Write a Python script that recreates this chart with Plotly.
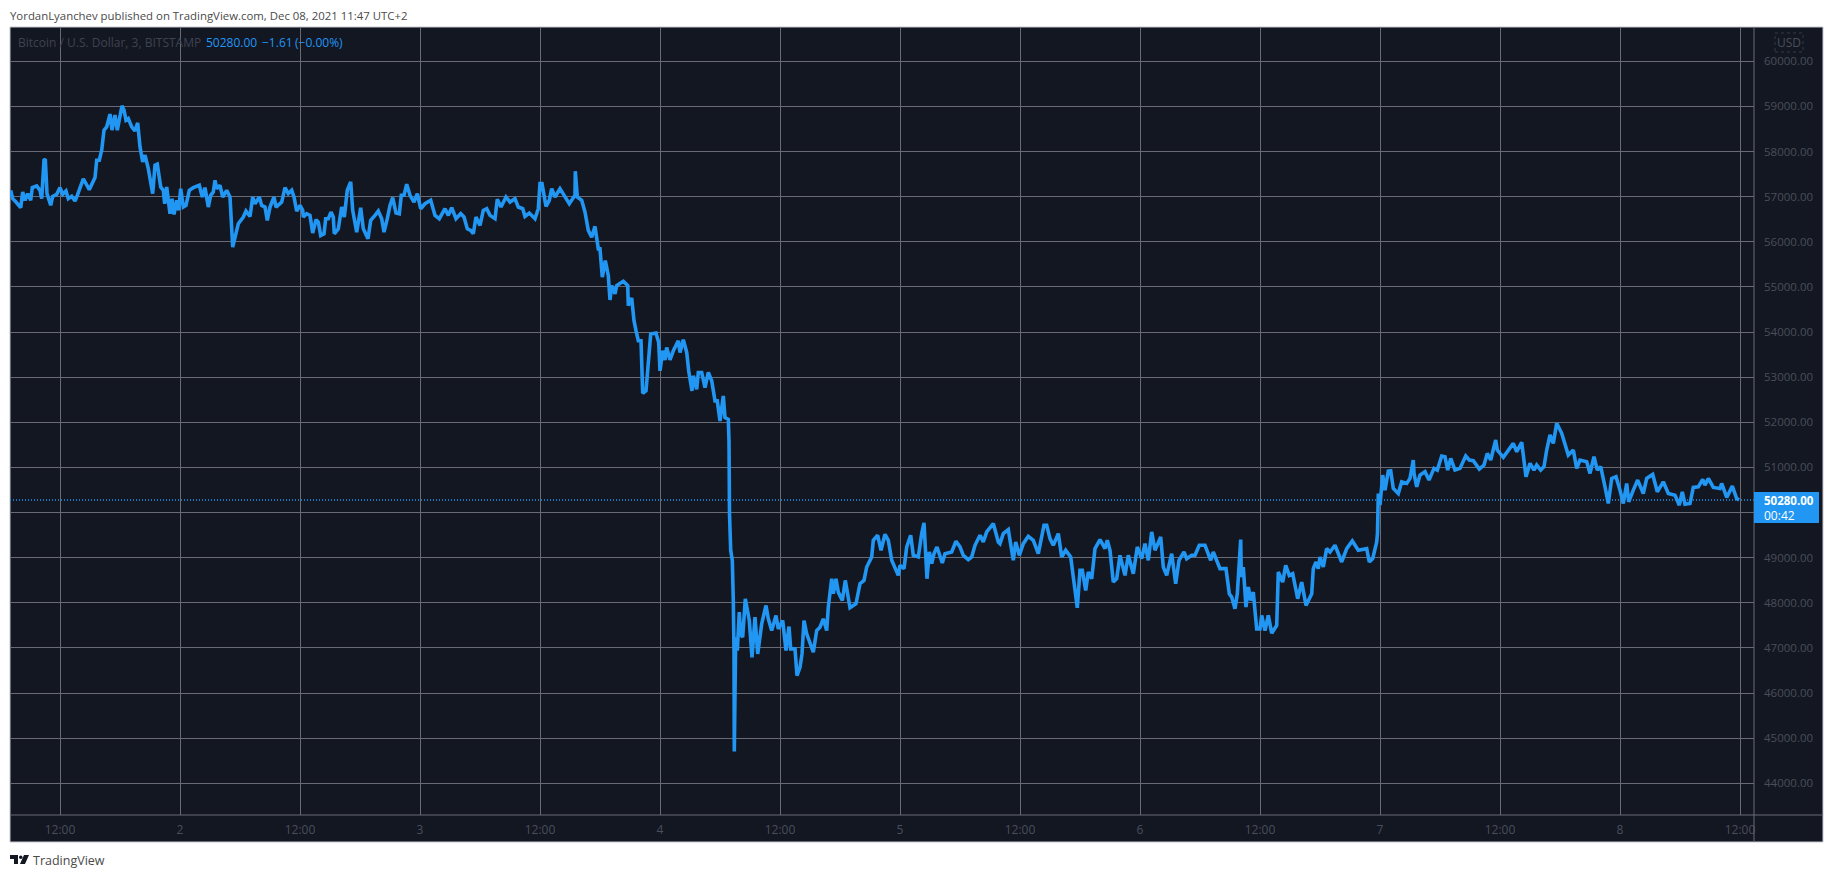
import pandas as pd
import plotly.graph_objects as go

# ---- data: hours since 2021-12-01 00:00 and BTC/USD price ----
hours_a = [7.07,7.27,7.6,8.07,8.27,8.5,8.77,9.07,9.23,9.67,10,10.17,10.4,10.53,10.7,11.07,11.27,11.67,12,12.27,12.6,12.83,13.17,13.5,13.73,14,14.33,14.6,14.93,15.5,15.67,15.93,16.17,16.4,16.67,17,17.2,17.5,17.73,18.2,18.4,18.6,18.83,19.17,19.5,19.77,20,20.27,20.5,20.83,21.27,21.5,21.73,22.07,22.33,22.47,22.67,23,23.2,23.4,23.67,23.87,24.07,24.33,24.6,24.93,25.33,25.93,26.23,26.5,26.83,27.07,27.33,27.5,27.67,28,28.27,28.67,29,29.27,29.53,29.83,30.33,30.6,31,31.27,31.5,31.93,32.17,32.5,32.73,33,33.4,33.6,34.17,34.5,34.83,35.17,35.4,35.67]
price_a = [57141,56956,56882,56756,57104,56919,57067,56919,57200,57237,57141,56956,57807,57830,57067,56808,57007,57052,57200,57052,57126,56956,57007,56904,57030,57215,57393,57289,57156,57422,57807,57807,58030,58474,58548,58830,58474,58807,58474,59015,58919,58696,58733,58548,58459,58637,58104,57770,57919,57622,57067,57696,57719,57215,57141,56844,57215,56622,56956,56607,56919,56696,57178,56770,56807,57141,57200,57252,56993,57200,56770,57030,57104,57363,57178,57252,56993,57141,56993,55882,56104,56400,56548,56681,56563,56993,56844,56993,56807,56770,56474,56770,56993,56770,56881,57200,57067,57141,56993,56681]

hours_b = [36,36.27,36.33,36.67,37,37.27,37.6,37.83,38.07,38.4,38.57,38.83,39.1,39.33,39.43,39.83,40.17,40.43,40.73,41.07,41.27,41.67,42.07,42.33,42.8,43.07,43.5,43.83,44.17,44.4,44.73,45,45.27,45.6,45.93,46.13,46.4,46.67,47,47.4,47.73,48.07,48.5,49.07,49.5,49.93,50.5,50.83,51.17,51.6,52.07,52.4,52.73,53.07,53.33,53.6,54,54.33,54.67,55,55.5,55.73,56.1,56.6,57,57.5,57.83,58.27,58.5,58.93,59.5,59.83,60,60.2,60.6,60.93,61.17,61.5,62,62.33,62.93,63.5,63.53,63.73,64.17,64.5,64.83,65.17,65.5,65.83]
price_b = [56807,56696,56548,56622,56585,56193,56489,56437,56141,56178,56511,56511,56659,56548,56178,56289,56770,56548,57141,57326,56696,56215,56756,56289,56067,56474,56585,56681,56511,56215,56511,56807,56978,56637,56622,57030,57030,57274,57030,56881,57067,56733,56844,56919,56585,56511,56733,56585,56756,56511,56622,56548,56289,56252,56178,56548,56363,56696,56733,56585,56511,56941,56770,56993,56881,56956,56770,56733,56563,56637,56511,56733,57289,57289,56785,56919,57178,56993,57178,57067,56844,57030,57563,56993,56919,56659,56252,56104,56341,55844]

hours_c = [66,66.23,66.53,66.83,67,67.17,67.5,67.67,68.33,68.77,68.83,69.17,69.4,69.6,69.83,70.1,70.27,70.6,70.87,71.07,71.6,71.87,72,72.27,72.5,72.67,73,73.33,73.83,74,74.33,74.67,74.87,75.2,75.33,75.67,75.83,76.17,76.5,76.83,77.17,77.5,77.73,78,78.33,78.5,78.83,78.9]
price_c = [55844,55215,55585,55252,54711,55030,54844,55030,55126,55030,54585,54756,54252,54030,53807,53807,52645,52696,53437,53956,53978,53770,53141,53585,53378,53659,53385,53585,53807,53548,53830,53548,53141,52696,53030,52733,53104,53104,52770,53104,52919,52474,52474,52030,52585,52104,52067,51585]

hours_d = [78.93,78.95,79.07,79.23,79.33,79.4,79.43,79.5,79.57,79.73,79.93,80.07,80.27,80.53,80.93,81.2,81.5,81.77,82.17,82.6,82.83,83.17,83.6,83.83,84.27,84.6,84.9,85.07,85.5,85.7,86,86.2,86.4,86.67,87.33,87.67,88,88.33,88.67,88.83,89.17,89.33,89.6,89.83,90.23,90.53,91,91.6,92,92.4,92.67,93.17,93.33,93.77,94.1,94.5,94.83,95.17,95.83,96,96.4,96.67,97.07,97.33,97.83,98.17,98.4,98.7,98.93,99.17,99.4,99.7,100.23,100.5,101.17,101.6,102,102.33,102.83,103.17,103.5,104,104.33,104.67,105.33,105.83,106]
price_d = [50644,49978,49163,48941,48052,46941,44704,46719,47237,46941,47793,47311,47237,48089,47607,46793,47681,46867,47533,47941,47644,47385,47719,47422,47607,46941,47474,46978,46978,46385,46570,46867,47607,47311,46904,47385,47459,47644,47385,47904,48533,48200,48533,48237,48052,48496,47889,47978,48422,48496,48793,49015,49385,49496,49163,49519,49385,48941,48607,48830,48756,49237,49496,49052,49015,49533,49770,48533,49126,48867,49089,49237,48882,49089,49126,49363,49237,49052,48956,49015,49274,49496,49348,49570,49756,49348,49311]

hours_e = [106.33,106.83,107.33,107.57,107.93,108.33,108.83,109.33,109.83,110.4,110.67,111,111.33,111.83,112.17,112.57,113.07,113.33,113.73,114,114.23,114.57,114.83,115.17,115.5,116,116.5,116.73,117,117.33,117.67,118,118.5,118.83,119.33,119.73,120.17,120.5,120.83,121.17,121.5,122.07,122.33,122.67,123.17,123.57,123.9,124.4,124.67,125.17,125.5,125.93,126.5,127.07,127.33,128,128.6,128.93,129.17,129.5,129.73,130.07,130.13,130.33,130.6,130.83,131.07,131.33,131.67,132,132.17,132.5,132.83,133.17,133.67,133.83,134.27,134.57,134.93,135.27,135.77,136.17,136.6,137.17,137.33,137.6,137.83,138,138.33,138.67,139,139.5,140.17,140.67,141.23,141.83,142.67,142.93,143.27,143.67,143.75,143.83]
price_e = [49533,49622,48941,49348,49052,49311,49474,49385,49089,49719,49719,49422,49274,49533,49015,49163,49015,48533,47889,48719,48719,48274,48681,48533,49200,49400,49200,49385,49163,48459,48533,49052,48607,49052,48644,49237,48978,49311,48941,49570,49163,49459,48793,48607,49089,48422,48941,49126,48978,49052,49052,49274,49274,48941,49126,48756,48756,48200,48126,47867,48200,49400,48570,48793,47904,48348,48052,48237,47422,47422,47719,47385,47719,47326,47496,48681,48459,48830,48607,48644,48089,48459,47941,48200,48756,48904,48756,49015,48793,49200,49126,49274,48904,49200,49370,49163,49200,48904,48978,49348,49550,50420]

hours_f = [144,144.27,144.5,144.83,145.07,145.33,145.83,146.17,146.67,147,147.33,147.4,147.67,148,148.5,148.9,149.4,149.73,150.17,150.5,150.77,151.07,151.5,152,152.57,152.93,153.33,153.93,154.4,154.73,155.07,155.57,155.73,156.33,156.83,157.33,157.67,158.17,158.6,159,159.4,159.67,160.07,160.4,160.67,161,161.33,161.67,162.17,162.5,162.83,163.33,163.67,164,164.67,165,165.4,165.73,166.07,166.5,166.83,167.17,167.6,168,168.33,168.67,168.87,169.33,169.77,170.33,170.67,171.27,171.73,172.33,172.83,173.5,173.93,174.23,174.5,175,175.33,175.83,176.27,176.5,176.83,177.33,178,178.17,178.67,179.23,179.67,179.9]
price_f = [50163,50830,50496,50919,50926,50533,50422,50681,50644,50756,51163,50867,50570,50830,50904,50719,50978,50941,51252,51237,50941,51200,50941,50978,51252,51163,51148,50963,51052,51311,51163,51607,51385,51222,51385,51533,51348,51556,50793,51089,50941,51052,50941,51015,51385,51719,51533,51978,51756,51533,51274,51385,50978,51163,51126,50867,51237,50941,51015,50570,50200,50756,50793,50496,50200,50644,50237,50496,50719,50422,50756,50844,50459,50681,50422,50385,50163,50459,50185,50200,50556,50570,50733,50607,50756,50556,50533,50644,50333,50585,50311,50280]

last_price = 50280
price_ticks = [44000,45000,46000,47000,48000,49000,50000,51000,52000,53000,54000,55000,56000,57000,58000,59000,60000]
price_tick_hidden = [50000]   # covered by the last-price box in the reference
time_tick_hours = [12,24,36,48,60,72,84,96,108,120,132,144,156,168,180]
time_tick_labels = ["12:00","2","12:00","3","12:00","4","12:00","5","12:00","6","12:00","7","12:00","8","12:00"]

hours = hours_a + hours_b + hours_c + hours_d + hours_e + hours_f
prices = price_a + price_b + price_c + price_d + price_e + price_f
assert len(hours) == len(prices)

base = pd.Timestamp("2021-12-01")
def to_date(h):
    return (base + pd.Timedelta(hours=h)).strftime("%Y-%m-%d %H:%M:%S")

# ---- geometry & style ----
W, H = 1834, 878
L, R, T, B = 10, 1754, 27, 815     # pane
OUTR, OUTB = 1823, 842             # outer chart frame
BG = "#131722"
GRID = "#6a6a74"
FRAME = "#c4c6cc"
DIM = "#4a4e5a"
BLUE = "#2196f3"
FONT = "Open Sans"

def px(x): return (x - L) / (R - L)
def py(y): return 1 - (y - T) / (B - T)

fig = go.Figure()
fig.add_trace(go.Scatter(x=[to_date(7), to_date(181.4)], y=[last_price, last_price], mode="lines",
                         line=dict(color=BLUE, width=1.5, dash="1px,2px"), hoverinfo="skip", showlegend=False))
fig.add_trace(go.Scatter(x=[to_date(h) for h in hours], y=prices, mode="lines",
                         line=dict(color=BLUE, width=3.6, shape="linear"), hoverinfo="skip", showlegend=False))

shapes = [
    dict(type="rect", xref="paper", yref="paper", x0=px(L), x1=px(OUTR), y0=py(OUTB), y1=py(T),
         fillcolor=BG, line=dict(color=FRAME, width=1), layer="below"),
    dict(type="line", xref="paper", yref="paper", x0=px(R), x1=px(R), y0=py(OUTB), y1=py(T),
         line=dict(color=GRID, width=1), layer="above"),
    dict(type="line", xref="paper", yref="paper", x0=px(L), x1=px(OUTR), y0=py(B), y1=py(B),
         line=dict(color=GRID, width=1), layer="above"),
    # last price box
    dict(type="rect", xref="paper", yref="paper", x0=px(R), x1=px(1819), y0=py(523), y1=py(492),
         fillcolor=BLUE, line=dict(width=0), layer="above"),
    # USD button
    dict(type="rect", xref="paper", yref="paper", x0=px(1775), x1=px(1803), y0=py(52), y1=py(33),
         line=dict(color="#363a45", width=1, dash="dot"), layer="above"),
]
def logo_path():
    pts = [[(10,855),(18,855),(18,864),(14,864),(14,859),(10,859)],
           [(24,855),(29,855),(25,864),(20,864)]]
    d = ""
    for p in pts:
        d += "M " + " L ".join(f"{px(a):.5f},{py(b):.5f}" for a, b in p) + " Z "
    return d
shapes.append(dict(type="path", xref="paper", yref="paper", path=logo_path(),
                   fillcolor="#131722", line=dict(width=0), layer="above"))
shapes.append(dict(type="circle", xref="paper", yref="paper", x0=px(19), x1=px(22.5), y0=py(859), y1=py(855.5),
                   fillcolor="#131722", line=dict(width=0), layer="above"))

def note(x, y, text, color, size=12, anchor="left", fam=FONT):
    return dict(xref="paper", yref="paper", x=px(x), y=py(y), text=text, showarrow=False,
                xanchor=anchor, yanchor="middle", font=dict(family=fam, size=size, color=color),
                borderpad=0, borderwidth=0)

annotations = [
    note(10, 15, "YordanLyanchev published on TradingView.com, Dec 08, 2021 11:47 UTC+2", "#4a4a4a", 11.4),
    note(18, 42, "Bitcoin / U.S. Dollar, 3, BITSTAMP", "#3f4350", 12),
    note(206, 42, "50280.00", BLUE, 12),
    note(262, 42, "\u22121.61", BLUE, 12),
    note(295, 42, "(\u22120.00%)", BLUE, 12),
    note(1789, 42, "USD", DIM, 12, "center"),
    note(1764, 500, "<b>50280.00</b>", "#ffffff", 11.5),
    note(1764, 515, "00:42", "#ffffff", 12),
    note(33, 860, "TradingView", "#4a4a4a", 12.5),
]

fig.update_layout(
    width=W, height=H, autosize=False,
    margin=dict(l=L, r=W - R, t=T, b=H - B, pad=0),
    paper_bgcolor="#ffffff", plot_bgcolor=BG,
    showlegend=False, hovermode=False,
    shapes=shapes, annotations=annotations,
    xaxis=dict(type="date", range=[to_date(7), to_date(181.4)],
               tickmode="array", tickvals=[to_date(h) for h in time_tick_hours], ticktext=time_tick_labels,
               showgrid=True, gridcolor=GRID, gridwidth=1, zeroline=False, showline=False,
               ticks="", tickangle=0, ticklabelstandoff=6, tickfont=dict(family=FONT, size=12, color=DIM)),
    yaxis=dict(range=[43297, 60760], side="right",
               tickmode="array", tickvals=price_ticks,
               ticktext=["" if v in price_tick_hidden else f"{v:.2f}" for v in price_ticks],
               showgrid=True, gridcolor=GRID, gridwidth=1, zeroline=False, showline=False,
               ticks="", ticklabelstandoff=9, tickfont=dict(family=FONT, size=11.5, color=DIM)),
)

fig.write_html("out.html", config={"displayModeBar": False},
               post_script="document.body.style.margin='0';document.documentElement.style.overflow='hidden';")
